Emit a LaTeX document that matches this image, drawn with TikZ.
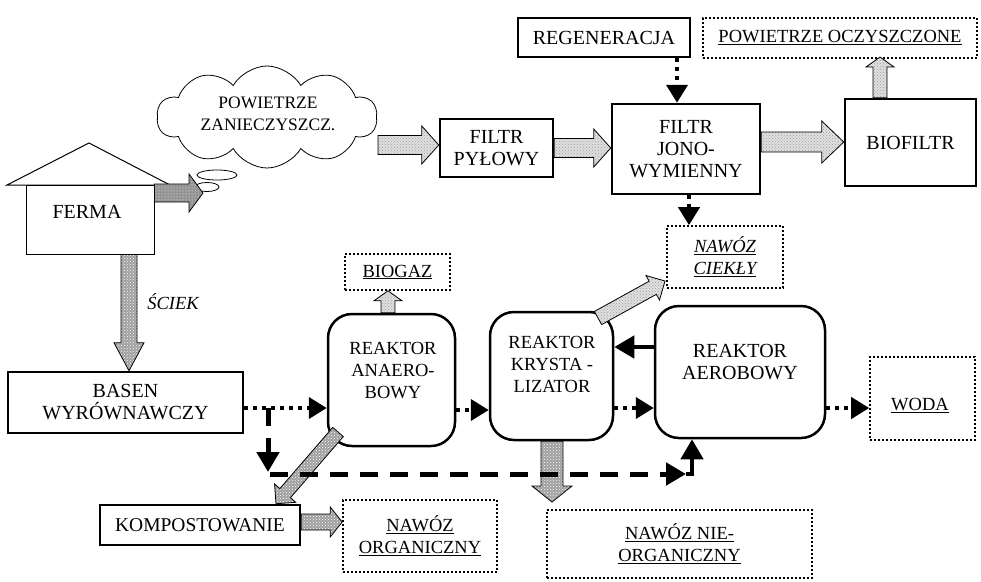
\documentclass[tikz,border=0pt]{standalone}
\usepackage{fontspec}
\setmainfont{Liberation Serif}
\usetikzlibrary{shapes.symbols,arrows.meta,patterns,calc}
\newcommand\blkarrow[6]{%
  \coordinate (bkH) at ($(#3)!#6!(#2)$);
  \path[#1] ($(#2)!#4!90:(#3)$) -- ($(bkH)!#4!90:(#3)$) -- ($(bkH)!#5!90:(#3)$) -- (#3)
    -- ($(bkH)!#5!-90:(#3)$) -- ($(bkH)!#4!-90:(#3)$) -- ($(#2)!#4!-90:(#3)$) -- cycle;}
\begin{document}
\begin{tikzpicture}[x=1pt,y=-1pt,
  every node/.style={font=\fontsize{18.5}{22}\selectfont, align=center, inner sep=0pt},
  big/.style={font=\fontsize{20}{22}\selectfont},
  bx/.style 2 args={draw, line width=2.5pt, minimum width=#1, minimum height=#2},
  thinbx/.style 2 args={draw, line width=1pt, minimum width=#1, minimum height=#2},
  dbx/.style 2 args={draw, line width=1.6pt, dash pattern=on 1.6pt off 2.4pt, minimum width=#1, minimum height=#2},
  rbx/.style 2 args={draw, line width=2.5pt, rounded corners=24pt, minimum width=#1, minimum height=#2},
  dotarr/.style={line width=4pt, dash pattern=on 4pt off 5pt, -{Triangle[length=18pt,width=21pt]}},
  solarr/.style={line width=4.5pt, -{Triangle[length=20pt,width=22pt]}},
  dasharr/.style={line width=5pt, dash pattern=on 18pt off 12pt, -{Triangle[length=20pt,width=22pt]}},
  lightpat/.style={draw, line width=0.8pt, preaction={fill=gray!25}, pattern=crosshatch dots, pattern color=gray!75},
  medpat/.style={draw, line width=0.8pt, preaction={fill=gray!75}, pattern=crosshatch dots, pattern color=white},
  darkpat/.style={draw, line width=0.8pt, preaction={fill=gray!85}, pattern=dots, pattern color=white},
  itl/.style={font=\fontsize{18.5}{22}\selectfont\itshape}
]
\useasboundingbox (0,0) rectangle (981,581);

% top row
\node[bx={172pt}{39pt}, big] (regen) at (604,37.5) {REGENERACJA};
\node[dbx={274pt}{40pt}] (powocz) at (840,38) {\underline{POWIETRZE OCZYSZCZONE}};
\node[draw, cloud, cloud puffs=10, cloud puff arc=120, aspect=2.2, line width=0.8pt,
      minimum width=220pt, minimum height=102pt] (cloud) at (267,117) {};
\node[font=\fontsize{17.5}{22}\selectfont] (cloudT) at (268,114) {POWIETRZE\\ZANIECZYSZCZ.};
\draw[line width=0.8pt] (217,175) ellipse [x radius=20pt, y radius=5pt];
\draw[line width=0.8pt] (207,187) ellipse [x radius=12pt, y radius=4.5pt];
\node[bx={113pt}{58pt}, big] (pyl) at (496.5,148) {FILTR\\PYŁOWY};
\node[bx={148pt}{90pt}, big] (jono) at (686,149) {FILTR\\JONO-\\WYMIENNY};
\node[bx={131pt}{87pt}, big] (bio) at (910.5,142.5) {BIOFILTR};
\node[dbx={116pt}{62pt}, itl] (ciekly) at (725,257) {\underline{NAWÓZ}\\\underline{CIEKŁY}};

% house
\draw[line width=1pt] (7,185) -- (89,143) -- (170,185) -- cycle;
\node[thinbx={128pt}{69pt}] (ferma) at (90,219.5) {};
\node[big] (fermaT) at (87,212) {FERMA};
\node[itl] (sciek) at (173,302) {ŚCIEK};

% middle row
\node[dbx={105pt}{36pt}] (biogaz) at (397.5,272) {\underline{BIOGAZ}};
\node[rbx={127pt}{132pt}] (anaero) at (391.5,380) {};
\node (anaeroT) at (393,371) {REAKTOR\\ANAERO-\\BOWY};
\node[rbx={123pt}{128pt}] (kryst) at (551.5,376) {};
\node (krystT) at (552,364) {REAKTOR\\KRYSTA -\\LIZATOR};
\node[rbx={170pt}{132pt}] (aero) at (740,372) {};
\node[big] (aeroT) at (740,362) {REAKTOR\\AEROBOWY};
\node[dbx={105pt}{83pt}] (woda) at (922.5,398.5) {};
\node (wodaT) at (920,406) {\underline{WODA}};
\node[bx={235pt}{61pt}, big] (basen) at (125.5,402.5) {BASEN\\WYRÓWNAWCZY};

% bottom row
\node[bx={200pt}{40pt}, font=\fontsize{19.5}{22}\selectfont] (kompost) at (200,525) {KOMPOSTOWANIE};
\node[dbx={154pt}{72pt}] (org) at (420,536) {\underline{NAWÓZ}\\\underline{ORGANICZNY}};
\node[dbx={265pt}{68pt}] (nieorg) at (679.5,544) {\underline{NAWÓZ NIE-}\\\underline{ORGANICZNY}};

% block arrows
\coordinate (a1s) at (ferma.east |- 0,193);
\coordinate (a1e) at (203,193);
\blkarrow{darkpat}{a1s}{a1e}{9pt}{19pt}{14pt}
\coordinate (a2s) at (ferma.south -| 129,0);
\coordinate (a2e) at (basen.north -| 129,0);
\blkarrow{medpat}{a2s}{a2e}{8pt}{15pt}{28pt}
\coordinate (a3s) at (378,145);
\coordinate (a3e) at (pyl.west |- 0,145);
\blkarrow{lightpat}{a3s}{a3e}{9.5pt}{19pt}{17pt}
\coordinate (a4s) at (pyl.east |- 0,148);
\coordinate (a4e) at (jono.west |- 0,148);
\blkarrow{lightpat}{a4s}{a4e}{9.5pt}{19pt}{17pt}
\coordinate (a5s) at (jono.east |- 0,142);
\coordinate (a5e) at (bio.west |- 0,142);
\blkarrow{lightpat}{a5s}{a5e}{10pt}{21pt}{22pt}
\coordinate (a6s) at (bio.north -| 880,0);
\coordinate (a6e) at (880,57);
\blkarrow{lightpat}{a6s}{a6e}{7pt}{14pt}{10pt}
\coordinate (a7s) at (anaero.north -| 388,0);
\coordinate (a7e) at (biogaz.south -| 388,0);
\blkarrow{lightpat}{a7s}{a7e}{7pt}{14pt}{10pt}
\coordinate (a8s) at (598,318);
\coordinate (a8e) at (665,281);
\blkarrow{lightpat}{a8s}{a8e}{7.5pt}{14pt}{14pt}
\coordinate (a9s) at (338,432);
\coordinate (a9e) at (kompost.north -| 276,0);
\blkarrow{medpat}{a9s}{a9e}{7pt}{14pt}{14pt}
\coordinate (a10s) at (kompost.east |- 0,522);
\coordinate (a10e) at (org.west |- 0,522);
\blkarrow{medpat}{a10s}{a10e}{8pt}{15pt}{12pt}
\coordinate (a11s) at (kryst.south -| 552,0);
\coordinate (a11e) at (552,502);
\blkarrow{medpat}{a11s}{a11e}{11pt}{20pt}{16pt}

% dotted arrows
\draw[dotarr] (regen.south -| 677,0) -- (jono.north -| 677,0);
\draw[dotarr] (jono.south -| 689,0) -- (ciekly.north -| 689,0);
\draw[dotarr] (basen.east |- 0,408) -- (anaero.west |- 0,408);
\draw[dotarr] (anaero.east |- 0,410) -- (kryst.west |- 0,410);
\draw[dotarr] (kryst.east |- 0,408) -- (aero.west |- 0,408);
\draw[dotarr] (aero.east |- 0,408) -- (woda.west |- 0,408);

% solid and dashed arrows
\draw[solarr] (aero.west |- 0,347) -- (kryst.east |- 0,347);
\coordinate (d1) at (268,408);
\coordinate (d2) at (268,472);
\draw[dasharr] (d1) -- (d2);
\coordinate (d3) at (270,474);
\coordinate (d4) at (686,474);
\draw[dasharr] (d3) -- (d4);
\coordinate (d5) at (692,474);
\draw[solarr] (d4) -- (d5) -- (aero.south -| d5);
\end{tikzpicture}
\end{document}
